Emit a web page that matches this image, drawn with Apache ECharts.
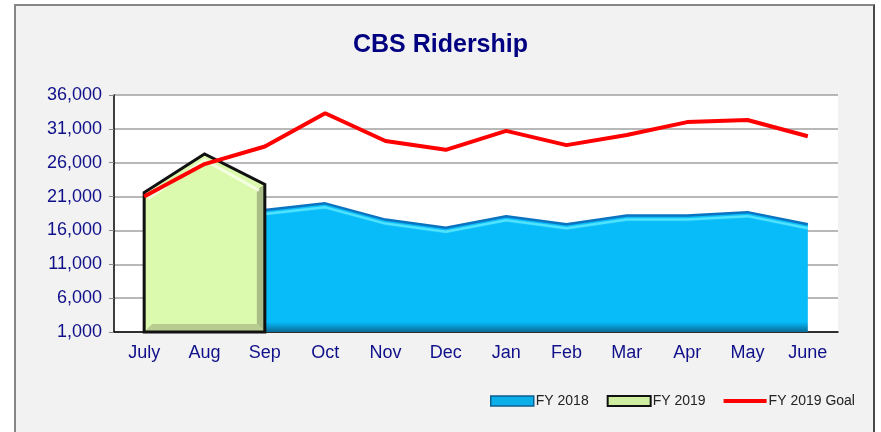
<!DOCTYPE html>
<html>
<head>
<meta charset="utf-8">
<script src="https://cdn.jsdelivr.net/npm/echarts@6/dist/echarts.min.js"></script>
<style>
  body { margin: 0; background: #fff; }
  #frame {
    position: absolute; left: 14px; top: 4px; width: 857px; height: 440px;
    background: #f2f2f2;
    border: 2px solid #868686;
    border-right-color: #4a4a4a;
  }
  #main { position: absolute; left: 0; top: 0; width: 881px; height: 432px; }
</style>
</head>
<body>
<div id="frame"></div>
<div id="main"></div>
<script>
// months on the category axis
var months = ['July', 'Aug', 'Sep', 'Oct', 'Nov', 'Dec', 'Jan', 'Feb', 'Mar', 'Apr', 'May', 'June']
// ridership
var fy2018 = [18200, 18600, 19000, 20000, 17600, 16400, 18100, 16900, 18200, 18200, 18700, 16900]
var fy2019 = [21600, 27300, 22800]
var fy2019Goal = [21000, 25800, 28400, 33300, 29200, 27900, 30700, 28600, 30100, 32000, 32300, 29900]

var navy = '#10108a'
var font = 'Liberation Sans, Arial, sans-serif'

var myChart = echarts.init(document.getElementById('main'))

function withCommas (v) {
    return String(v).replace(/\B(?=(\d{3})+(?!\d))/g, ',')
}

// green FY 2019 block, drawn as one outlined polygon
function renderFy2019 (params, api) {
    if (params.dataIndex !== 0) return null
    var pts = fy2019.map(function (v, i) { return api.coord([i, v]) })
    var yb = api.coord([0, 1000])[1]
    var x0 = pts[0][0], xs = pts[pts.length - 1][0], ys = pts[pts.length - 1][1]
    var outline = [[x0, yb]].concat(pts).concat([[xs, yb]])
    var top = pts.map(function (p, i) {
        var dx = i === 0 ? 4 : (i === pts.length - 1 ? -6 : 0)
        return [p[0] + dx, p[1] + 6]
    })
    return {
        type: 'group',
        children: [
            { type: 'polygon', shape: { points: outline }, style: { fill: '#dcfaae' } },
            { type: 'polygon', shape: { points: [[xs - 8, ys + 5], [xs, ys], [xs, yb], [xs - 8, yb - 8]] }, style: { fill: '#aabd86' } },
            { type: 'polygon', shape: { points: [[x0, yb], [xs, yb], [xs - 8, yb - 8], [x0 + 8, yb - 8]] }, style: { fill: '#b8cc92' } },
            { type: 'polyline', shape: { points: top }, style: { stroke: '#f4ffe2', lineWidth: 3, fill: null } },
            { type: 'polygon', shape: { points: outline }, style: { fill: null, stroke: '#111', lineWidth: 3, lineJoin: 'miter' } }
        ]
    }
}

var option = {
    backgroundColor: 'transparent',
    textStyle: { fontFamily: font },
    title: {
        text: 'CBS Ridership',
        left: 'center',
        top: 28,
        textStyle: { color: '#000080', fontSize: 25, fontWeight: 'bold', fontFamily: font }
    },
    legend: {
        left: 485,
        top: 389,
        itemWidth: 43,
        itemHeight: 10,
        itemGap: 18,
        textStyle: { fontSize: 14, color: '#222', padding: [0, 0, 0, -3] },
        data: [
            { name: 'FY 2018', icon: 'rect', itemStyle: { color: '#0aaee8', borderColor: '#0b5f92', borderWidth: 1.5 } },
            { name: 'FY 2019', icon: 'rect', itemStyle: { color: '#cfee9f', borderColor: '#111', borderWidth: 2 } },
            { name: 'FY 2019 Goal', icon: 'path://M0,0h43v4h-43z', itemStyle: { color: '#ff0000' } }
        ]
    },
    grid: {
        left: 114,
        right: 43,
        top: 95,
        bottom: 100,
        show: true,
        backgroundColor: '#fff',
        borderWidth: 0
    },
    xAxis: {
        type: 'category',
        data: months,
        boundaryGap: true,
        axisLine: { lineStyle: { color: '#000', width: 1.5 } },
        axisTick: { length: 5, lineStyle: { color: '#888' } },
        axisLabel: { color: navy, fontSize: 18, margin: 12, fontFamily: font }
    },
    yAxis: {
        type: 'value',
        min: 1000,
        max: 36000,
        interval: 5000,
        axisLine: { show: true, lineStyle: { color: '#000', width: 1.5 } },
        axisTick: { show: true, length: 5, lineStyle: { color: '#888' } },
        axisLabel: { color: navy, fontSize: 18, margin: 12, fontFamily: font, formatter: withCommas },
        splitLine: { lineStyle: { color: '#a0a0a0', width: 1.5 } }
    },
    series: [
        {
            name: 'FY 2018',
            type: 'line',
            data: fy2018,
            symbol: 'none',
            z: 2,
            lineStyle: {
                color: '#0b74c0',
                width: 2.5,
                shadowColor: '#55e6ff',
                shadowBlur: 1,
                shadowOffsetY: 4
            },
            areaStyle: {
                origin: 'start',
                opacity: 1,
                color: {
                    type: 'linear', x: 0, y: 0, x2: 0, y2: 1,
                    colorStops: [
                        { offset: 0, color: '#08bbf9' },
                        { offset: 0.92, color: '#08bbf9' },
                        { offset: 0.95, color: '#079fd8' },
                        { offset: 1, color: '#0b6a95' }
                    ]
                }
            }
        },
        {
            name: 'FY 2019',
            type: 'custom',
            z: 3,
            data: fy2019.map(function (v, i) { return [i, v] }),
            encode: { x: 0, y: 1 },
            itemStyle: { color: '#cfee9f' },
            renderItem: renderFy2019
        },
        {
            name: 'FY 2019 Goal',
            type: 'line',
            data: fy2019Goal,
            symbol: 'none',
            z: 4,
            itemStyle: { color: '#ff0000' },
            lineStyle: { color: '#ff0000', width: 4 }
        }
    ]
}

myChart.setOption(option)
</script>
</body>
</html>
